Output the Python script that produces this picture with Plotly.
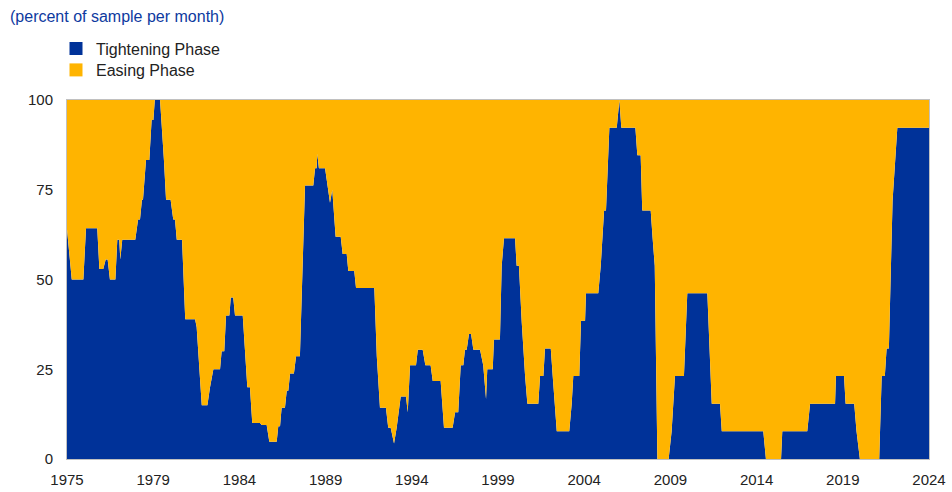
import plotly.graph_objects as go

# Break points of the monthly share of the sample in a tightening phase (decimal years)
years = [
    1975.00, 1975.27, 1975.93, 1976.08, 1976.72, 1976.84, 1977.06, 1977.20, 1977.31, 1977.44,
    1977.75, 1977.86, 1977.97, 1978.03, 1978.14, 1978.88, 1979.04, 1979.15, 1979.26, 1979.32,
    1979.49, 1979.68, 1979.81, 1979.91, 1979.99, 1980.29, 1980.51, 1980.63, 1980.89, 1981.04,
    1981.14, 1981.24, 1981.54, 1981.72, 1982.28, 1982.37, 1982.66, 1982.98, 1983.13, 1983.32,
    1983.70, 1983.79, 1983.94, 1984.04, 1984.23, 1984.31, 1984.45, 1984.55, 1984.99, 1985.25,
    1985.40, 1985.53, 1985.97, 1986.07, 1986.35, 1986.50, 1986.92, 1987.01, 1987.11, 1987.20,
    1987.39, 1987.49, 1987.58, 1987.68, 1987.90, 1988.02, 1988.24, 1988.53, 1989.00, 1989.10,
    1989.19, 1989.23, 1989.32, 1989.67, 1989.95, 1990.08, 1990.27, 1990.56, 1990.67, 1990.90,
    1990.99, 1991.33, 1991.43, 1992.47, 1992.61, 1992.79, 1993.13, 1993.26, 1993.40, 1993.59,
    1993.74, 1993.97, 1994.27, 1994.37, 1994.50, 1994.84, 1994.94, 1995.22, 1995.37, 1995.67,
    1995.79, 1996.24, 1996.43, 1996.92, 1997.06, 1997.24, 1997.38, 1997.53, 1997.62, 1997.72,
    1997.85, 1997.97, 1998.10, 1998.48, 1998.66, 1998.82, 1998.89, 1999.20, 1999.27, 1999.61,
    1999.71, 1999.84, 2000.47, 2000.56, 2000.69, 2000.85, 2001.04, 2001.17, 2001.79, 2001.89,
    2002.08, 2002.17, 2002.50, 2002.61, 2002.84, 2003.55, 2003.69, 2003.78, 2004.12, 2004.22,
    2004.45, 2004.50, 2005.20, 2005.34, 2005.53, 2005.64, 2005.83, 2006.25, 2006.40, 2006.51,
    2007.31, 2007.42, 2007.61, 2007.70, 2008.18, 2008.29, 2008.41, 2008.56, 2009.20, 2009.37,
    2009.56, 2010.07, 2010.26, 2011.40, 2011.65, 2012.12, 2012.22, 2014.58, 2014.73, 2015.59,
    2015.66, 2017.08, 2017.24, 2018.66, 2018.71, 2019.17, 2019.26, 2019.75, 2019.88, 2020.07,
    2021.17, 2021.31, 2021.49, 2021.59, 2021.72, 2021.93, 2022.20, 2024.00,
]
tightening = [
    64.0, 50.0, 50.0, 64.3, 64.3, 52.9, 52.9, 55.6, 55.6, 50.0,
    50.0, 61.1, 61.1, 55.6, 61.1, 61.1, 66.7, 66.7, 72.2, 72.2,
    83.3, 83.3, 94.4, 94.4, 100.0, 100.0, 83.3, 72.2, 72.2, 66.7,
    66.7, 61.1, 61.1, 38.9, 38.9, 36.8, 15.0, 15.0, 20.0, 25.0,
    25.0, 30.0, 30.0, 40.0, 40.0, 45.0, 45.0, 40.0, 40.0, 20.0,
    20.0, 10.0, 10.0, 9.5, 9.5, 4.8, 4.8, 9.1, 9.1, 14.3,
    14.3, 19.0, 19.0, 23.8, 23.8, 28.6, 28.6, 76.2, 76.2, 81.0,
    81.0, 85.0, 81.0, 81.0, 71.4, 75.0, 61.9, 61.9, 57.1, 57.1,
    52.4, 52.4, 47.6, 47.6, 28.6, 14.3, 14.3, 8.7, 8.7, 4.3,
    8.7, 17.4, 17.4, 13.0, 26.1, 26.1, 30.4, 30.4, 26.1, 26.1,
    21.7, 21.7, 8.7, 8.7, 13.0, 13.0, 26.1, 26.1, 30.4, 30.4,
    34.8, 34.8, 30.4, 30.4, 26.1, 16.7, 25.0, 25.0, 33.3, 33.3,
    53.8, 61.5, 61.5, 53.8, 53.8, 38.0, 23.1, 15.4, 15.4, 23.1,
    23.1, 30.8, 30.8, 23.1, 7.7, 7.7, 15.4, 23.1, 23.1, 38.5,
    38.5, 46.2, 46.2, 53.8, 69.2, 69.2, 92.3, 92.3, 100.0, 92.3,
    92.3, 84.6, 84.6, 69.2, 69.2, 61.5, 53.8, 0.0, 0.0, 7.7,
    23.1, 23.1, 46.2, 46.2, 15.4, 15.4, 7.7, 7.7, 0.0, 0.0,
    7.7, 7.7, 15.4, 15.4, 23.1, 23.1, 15.4, 15.4, 7.7, 0.0,
    0.0, 23.1, 23.1, 30.8, 30.8, 72.0, 92.3, 92.3,
]
easing = [round(100.0 - v, 1) for v in tightening]

tick_years = [1975.0, 1979.9, 1984.8, 1989.7, 1994.6, 1999.5, 2004.4, 2009.3, 2014.2, 2019.1, 2024.0]
tick_labels = ["1975", "1979", "1984", "1989", "1994", "1999", "2004", "2009", "2014", "2019", "2024"]
y_ticks = [0, 25, 50, 75, 100]

BLUE = "#003299"
YELLOW = "#FFB400"
FONT = "Liberation Sans, Arial, sans-serif"

fig = go.Figure()
fig.add_trace(go.Scatter(x=years, y=tightening, stackgroup="s", mode="none",
                         fillcolor=BLUE, name="Tightening Phase", showlegend=False))
fig.add_trace(go.Scatter(x=years, y=easing, stackgroup="s", mode="none",
                         fillcolor=YELLOW, name="Easing Phase", showlegend=False))
# legend entries (square swatches)
fig.add_trace(go.Scatter(x=[None], y=[None], mode="markers", name="Tightening Phase",
                         marker=dict(symbol="square", size=13, color=BLUE), legend="legend"))
fig.add_trace(go.Scatter(x=[None], y=[None], mode="markers", name="Easing Phase",
                         marker=dict(symbol="square", size=13, color=YELLOW), legend="legend2"))

W, H = 952, 492
L, R, T, B = 67, 23, 100, 33
ph = H - T - B
pw = W - L - R

def ly(py):
    return (H - B - py) / ph

leg_common = dict(xref="paper", yref="paper", x=(56 - L) / pw, xanchor="left", yanchor="middle",
                  bgcolor="rgba(0,0,0,0)", font=dict(family=FONT, size=16, color="#222222"))

fig.update_layout(
    width=W, height=H,
    margin=dict(l=L, r=R, t=T, b=B, autoexpand=False),
    paper_bgcolor="white", plot_bgcolor="white",
    font=dict(family=FONT, size=15, color="#222222"),
    title=dict(text="(percent of sample per month)", x=10 / W, xanchor="left",
               y=1 - 16 / H, yanchor="middle",
               font=dict(family=FONT, size=16, color="#0d3aa0")),
    legend=dict(y=ly(48.5), **leg_common),
    legend2=dict(y=ly(70), **leg_common),
    xaxis=dict(range=[1975, 2024], tickvals=tick_years, ticktext=tick_labels,
               showgrid=False, zeroline=False, showline=True, linecolor="#c0c0c0",
               linewidth=1, mirror=True, ticks="", ticklabelstandoff=7,
               tickfont=dict(family=FONT, size=15, color="#222222")),
    yaxis=dict(range=[0, 100], tickvals=y_ticks, showgrid=False, zeroline=False,
               showline=True, linecolor="#c0c0c0", linewidth=1, mirror=True,
               ticks="", ticklabelstandoff=10,
               tickfont=dict(family=FONT, size=15, color="#222222")),
)

fig.write_html("out.html", config={"displayModeBar": False},
               post_script="document.body.style.margin='0';document.body.style.padding='0';")
